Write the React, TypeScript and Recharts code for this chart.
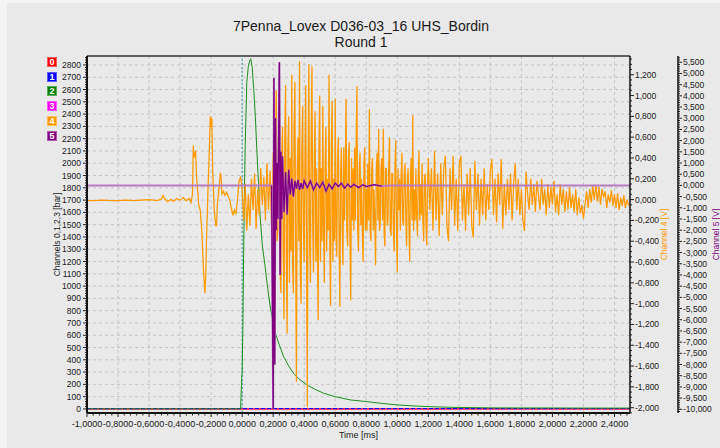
import React from 'react';
import { ComposedChart, Line, XAxis, YAxis, CartesianGrid, ReferenceLine } from 'recharts';

const FONT = '"Liberation Sans", Arial, sans-serif';

// ---------- texts ----------
const chartTitle = '7Penna_Lovex D036-03_16 UHS_Bordin';
const chartSubtitle = 'Round 1';
const xAxisTitle = 'Time [ms]';
const leftAxisTitle = 'Channels 0,1,2,3 [bar]';
const ch4AxisTitle = 'Channel 4 [V]';
const ch5AxisTitle = 'Channel 5 [V]';

// ---------- legend ----------
const channelIds = ['0', '1', '2', '3', '4', '5'];
const channelColors = ['#ff0000', '#0000ff', '#008000', '#ff00ff', '#ff9900', '#800080'];

// ---------- axes ----------
const xMajorTicks = [-1.0, -0.8, -0.6, -0.4, -0.2, 0.0, 0.2, 0.4, 0.6, 0.8, 1.0, 1.2, 1.4, 1.6, 1.8, 2.0, 2.2, 2.4];
const leftMajorTicks = [0, 100, 200, 300, 400, 500, 600, 700, 800, 900, 1000, 1100, 1200, 1300, 1400, 1500, 1600, 1700, 1800, 1900, 2000, 2100, 2200, 2300, 2400, 2500, 2600, 2700, 2800];
const ch4MajorTicks = [-2.0, -1.8, -1.6, -1.4, -1.2, -1.0, -0.8, -0.6, -0.4, -0.2, 0.0, 0.2, 0.4, 0.6, 0.8, 1.0, 1.2];
const ch5MajorTicks = [-10.0, -9.5, -9.0, -8.5, -8.0, -7.5, -7.0, -6.5, -6.0, -5.5, -5.0, -4.5, -4.0, -3.5, -3.0, -2.5, -2.0, -1.5, -1.0, -0.5, 0.0, 0.5, 1.0, 1.5, 2.0, 2.5, 3.0, 3.5, 4.0, 4.5, 5.0, 5.5];

const xDomain = [-1.0, 2.5];
const leftDomain = [-33, 2873];
const ch4Domain = [-2.051, 1.38];
const ch5Domain = [-10.166, 5.78];

// ---------- data ----------
// Channel 0 (red) and channel 3 (magenta): flat at 0 bar
const ch0Times = [-1.0, 2.5];
const ch0Values = [0, 0];
const ch3Times = [-1.0, 2.5];
const ch3Values = [0, 0];
// Channel 1 (blue): near 0 bar
const ch1Times = [-1.0, 2.5];
const ch1Values = [3, 3];

// Channel 2 (green) pressure pulse [bar]
const ch2Times = [-1.0, -0.01, -0.003, 0.0, 0.005, 0.01, 0.015, 0.02, 0.03, 0.04, 0.05, 0.056, 0.065, 0.075, 0.085, 0.095, 0.105, 0.116, 0.13, 0.148, 0.165, 0.18, 0.2, 0.213, 0.24, 0.266, 0.3, 0.331, 0.37, 0.417, 0.47, 0.525, 0.6, 0.7, 0.8, 0.9, 1.0, 1.1, 1.2, 1.3, 1.4, 1.6, 1.8, 2.0, 2.2, 2.5];
const ch2Values = [0, 0, 250, 300, 700, 1300, 1790, 2150, 2660, 2790, 2840, 2850, 2780, 2600, 2380, 2100, 1845, 1570, 1330, 1160, 980, 840, 700, 620, 520, 430, 350, 290, 240, 196, 160, 128, 100, 73, 60, 45, 33, 25, 19, 15, 12, 9, 8, 8, 7, 7];

// Channel 4 (orange) [V] – before the burst
const ch4PreTimes = [-1.0, -0.95, -0.9, -0.85, -0.8, -0.75, -0.7, -0.65, -0.6, -0.55, -0.52, -0.51, -0.5, -0.48, -0.46, -0.44, -0.42, -0.4, -0.38, -0.36, -0.34, -0.33, -0.32, -0.315, -0.31, -0.3, -0.295, -0.29, -0.28, -0.27, -0.26, -0.25, -0.24, -0.235, -0.23, -0.22, -0.21, -0.205, -0.2, -0.195, -0.19, -0.18, -0.17, -0.165, -0.16, -0.15, -0.14, -0.135, -0.13, -0.12, -0.11, -0.1, -0.09, -0.08, -0.07, -0.06, -0.05, -0.04, -0.03, -0.02, -0.01, 0.0];
const ch4PreValues = [-0.01, -0.01, -0.005, -0.01, -0.01, -0.005, -0.01, -0.005, 0.0, -0.01, 0.005, 0.04, 0.01, -0.02, 0.0, -0.015, 0.01, -0.005, 0.02, -0.01, 0.01, -0.03, 0.05, 0.52, 0.40, 0.47, 0.25, 0.15, -0.05, -0.10, -0.30, -0.65, -0.90, -0.75, -0.40, 0.10, 0.55, 0.80, 0.70, 0.78, 0.30, -0.10, -0.25, -0.25, -0.05, 0.10, 0.26, 0.20, 0.05, 0.08, 0.04, 0.07, 0.03, 0.0, -0.08, -0.15, -0.10, -0.14, 0.0, 0.18, 0.22, 0.10];

// Channel 4 – early burst, one sample every 0.01 ms from 0.01 to 0.20 ms
const ch4EarlyStart = 0.01;
const ch4EarlyStep = 0.01;
const ch4EarlyValues = [
  -0.20, 0.15, -0.30, 0.05, -0.25, 0.20, -0.10, 0.25, -0.28, 0.10,
  -0.15, 0.30, -0.05, 0.22, -0.20, 0.35, -0.10, 0.28, -0.25, 0.45,
];

// Channel 4 – main burst, one sample every 0.005 ms from 0.205 to 1.200 ms
const ch4MainStart = 0.205;
const ch4MainStep = 0.005;
const ch4MainValues = [
  0.30, -0.60, 0.50, 1.05, -0.40, -0.30, 0.60, 0.95, -0.70, -0.90, 0.40, 0.70, -0.50, -1.15, 0.60, 1.10, -0.60, -1.29, 0.50, 0.80,
  -0.80, 0.40, -0.50, 1.20, -0.60, -0.90, 0.70, 1.13, -0.50, -1.75, 0.30, 0.60, -0.40, 1.33, -0.70, -1.00, 0.50, 0.90, -0.30, -0.60,
  0.40, 1.10, -0.50, -1.99, 0.30, 1.30, -0.40, -0.80, 0.60, 1.28, -0.30, -0.70, 0.40, 0.85, -0.60, 0.30, -0.50, -1.16, 0.50, 1.00,
  -0.60, 0.30, -0.40, 0.90, -0.30, -0.80, 0.40, 0.70, -0.50, 0.20, -0.30, 1.20, -0.40, -1.02, 0.50, 0.95, -0.60, 0.20, -0.40, 0.97,
  -0.30, -0.55, 0.40, 0.60, -0.40, -1.03, 0.30, 0.50, -0.30, -0.63, 0.50, -0.20, 0.30, 0.97, -0.30, -0.45, 0.40, 0.55, -0.40, -0.97,
  0.40, -0.20, 0.30, -0.30, 0.50, -0.20, 0.60, 1.09, -0.30, -0.50, 0.30, 0.45, -0.25, 0.20, -0.35, -0.60, 0.35, 0.50, -0.30, 0.10,
  -0.30, 0.35, -0.20, 0.87, -0.30, -0.40, 0.30, 0.40, -0.30, 0.10, -0.20, -0.63, 0.30, 0.45, -0.20, 0.68, -0.30, -0.25, 0.30, 0.40,
  -0.20, 0.68, -0.30, -0.45, 0.30, 0.30, -0.25, -0.20, 0.35, 0.60, -0.30, -0.35, 0.25, 0.25, -0.30, -0.50, 0.30, 0.57, -0.30, -0.70,
  0.30, -0.10, 0.20, -0.30, 0.25, 0.45, -0.20, -0.25, 0.25, 0.35, -0.20, -0.45, 0.20, 0.30, -0.25, -0.60, 0.25, 0.40, -0.20, 0.81,
  -0.30, 0.10, -0.20, 0.30, -0.15, -0.35, 0.20, 0.47, -0.20, 0.15, -0.15, 0.35, -0.20, -0.40, 0.20, 0.25, -0.25, -0.44, 0.15, 0.40,
];

// Channel 4 – decay, one sample every 0.01 ms from 1.21 to 2.50 ms
const ch4TailStart = 1.21;
const ch4TailStep = 0.01;
const ch4TailValues = [
  -0.10, 0.30, -0.30, 0.47, -0.20, 0.25, -0.35, 0.35, -0.15, 0.30,
  0.42, -0.25, -0.40, 0.30, -0.10, 0.42, -0.25, 0.20, -0.30, 0.35,
  0.42, -0.20, 0.15, -0.30, 0.25, -0.15, 0.30, -0.25, -0.36, 0.37,
  -0.10, 0.25, -0.25, 0.20, -0.15, 0.30, -0.20, 0.15, -0.10, 0.28,
  0.39, -0.15, 0.20, -0.22, 0.25, -0.05, 0.39, -0.28, 0.15, -0.15,
  0.20, -0.10, 0.25, -0.20, 0.15, 0.35, -0.10, 0.20, -0.15, 0.10,
  -0.20, -0.30, 0.27, 0.05, -0.10, 0.20, -0.05, 0.15, -0.12, 0.18,
  0.05, -0.10, 0.20, -0.05, 0.10, -0.15, 0.15, -0.08, 0.12, -0.05,
  0.18, -0.12, 0.05, -0.15, 0.15, -0.05, 0.10, -0.12, 0.08, -0.10,
  0.12, -0.08, 0.05, -0.12, 0.10, -0.15, 0.02, -0.13, -0.05, -0.18,
  -0.05, 0.08, -0.08, 0.10, -0.03, 0.13, 0.00, 0.14, -0.02, 0.12,
  -0.05, 0.10, 0.02, 0.08, -0.08, 0.05, -0.03, 0.09, -0.06, 0.05,
  -0.08, 0.06, -0.10, 0.02, -0.06, 0.04, -0.08, 0.00, -0.05, -0.06,
];

// Channel 5 (purple) [V]
const ch5Times = [-1.0, 0.19, 0.2, 0.205, 0.21, 0.215, 0.22, 0.225, 0.23, 0.24, 0.245, 0.25, 0.255, 0.26, 0.27, 0.28, 0.29, 0.30, 0.31, 0.32, 0.33, 0.34, 0.35, 0.36, 0.37, 0.38, 0.39, 0.40, 0.42, 0.44, 0.46, 0.48, 0.50, 0.52, 0.54, 0.56, 0.58, 0.60, 0.62, 0.64, 0.66, 0.68, 0.70, 0.72, 0.75, 0.78, 0.80, 0.85, 0.90, 0.95, 1.0, 2.5];
const ch5Values = [0, 0, -10.0, 4.8, -8.0, 3.0, -2.0, 1.0, -1.5, 5.5, -4.0, 1.5, -1.5, 1.3, -1.2, 0.6, -1.3, 0.7, -0.4, 0.3, -0.5, 0.2, -0.15, 0.25, -0.2, 0.1, -0.15, 0.2, -0.1, 0.2, -0.2, 0.1, -0.1, 0.15, -0.25, 0.05, -0.15, 0.1, -0.05, 0.1, -0.12, 0.05, -0.08, 0.05, -0.1, 0.03, -0.05, 0.03, -0.03, 0, 0, 0];
// time window of the channel 5 transient (drawn in the darker tone)
const ch5BurstWindow = [0.19, 0.9];

// ---------- helpers ----------
const zip = (ts: number[], vs: number[]) => {
  const n = Math.min(ts.length, vs.length);
  const out: { t: number; v: number }[] = [];
  for (let i = 0; i < n; i++) out.push({ t: ts[i], v: vs[i] });
  return out;
};
const sampled = (start: number, step: number, vs: number[]) =>
  vs.map((v, i) => ({ t: Number((start + i * step).toFixed(4)), v }));

const ch0Data = zip(ch0Times, ch0Values);
const ch1Data = zip(ch1Times, ch1Values);
const ch2Data = zip(ch2Times, ch2Values);
const ch3Data = zip(ch3Times, ch3Values);
const ch4Data = [
  ...zip(ch4PreTimes, ch4PreValues),
  ...sampled(ch4EarlyStart, ch4EarlyStep, ch4EarlyValues),
  ...sampled(ch4MainStart, ch4MainStep, ch4MainValues),
  ...sampled(ch4TailStart, ch4TailStep, ch4TailValues),
];
const ch5Data = zip(ch5Times, ch5Values);
const ch5BurstData = ch5Data.filter((d) => d.t >= ch5BurstWindow[0] && d.t <= ch5BurstWindow[1]);

const withMinor = (majors: number[], parts: number, lo: number, hi: number) => {
  const step = (majors[1] - majors[0]) / parts;
  const start = majors[0] - Math.floor((majors[0] - lo) / step + 1e-9) * step;
  const out: number[] = [];
  for (let i = 0; start + i * step <= hi + 1e-9; i++) out.push(Number((start + i * step).toFixed(6)));
  return out;
};
const isMajor = (v: number, majors: number[]) => {
  const step = Math.abs(majors[1] - majors[0]);
  return majors.some((m) => Math.abs(m - v) < step / 20);
};
const comma = (v: number, d: number) => {
  const s = (Math.abs(v) < 1e-9 ? 0 : v).toFixed(d);
  return s.replace('.', ',');
};

const xTicks = withMinor(xMajorTicks, 5, xDomain[0], xDomain[1]);
const leftTicks = withMinor(leftMajorTicks, 5, 0, leftDomain[1]);
const ch4Ticks = withMinor(ch4MajorTicks, 4, ch4Domain[0], ch4Domain[1]);
const ch5Ticks = withMinor(ch5MajorTicks, 5, ch5Domain[0], ch5Domain[1]);

const TICK_COLOR = '#1a1a1a';

const XTick = (p: any) => {
  const major = isMajor(p.payload.value, xMajorTicks);
  return (
    <g>
      <line x1={p.x} x2={p.x} y1={p.y} y2={p.y + (major ? 4 : 2.5)} stroke="#222" />
      {major && (
        <text x={p.x} y={p.y + 13.5} textAnchor="middle" fontSize={9} fontFamily={FONT} fill={TICK_COLOR}>
          {comma(p.payload.value, 4)}
        </text>
      )}
    </g>
  );
};

const LeftTick = (p: any) => {
  const major = isMajor(p.payload.value, leftMajorTicks);
  return (
    <g>
      <line x1={p.x - (major ? 4 : 2)} x2={p.x} y1={p.y} y2={p.y} stroke="#222" />
      {major && (
        <text x={p.x - 6} y={p.y + 3} textAnchor="end" fontSize={8.5} fontFamily={FONT} fill={TICK_COLOR}>
          {String(p.payload.value)}
        </text>
      )}
    </g>
  );
};

const makeRightTick = (majors: number[]) => (p: any) => {
  const major = isMajor(p.payload.value, majors);
  return (
    <g>
      <line x1={p.x} x2={p.x + (major ? 4 : 2)} y1={p.y} y2={p.y} stroke="#222" />
      {major && (
        <text x={p.x + 5} y={p.y + 3} textAnchor="start" fontSize={8.5} fontFamily={FONT} fill={TICK_COLOR}>
          {comma(p.payload.value, 3)}
        </text>
      )}
    </g>
  );
};
const Ch4Tick = makeRightTick(ch4MajorTicks);
const Ch5Tick = makeRightTick(ch5MajorTicks);

const AxisTitle = (props: any) => {
  const vb = props.viewBox || { x: 0, y: 0, width: 0, height: 0 };
  const cx = vb.x + props.shift;
  const cy = vb.y + vb.height / 2;
  return (
    <text
      x={cx}
      y={cy}
      transform={`rotate(-90 ${cx} ${cy})`}
      textAnchor="middle"
      dominantBaseline="central"
      fontSize={8.5}
      fontFamily={FONT}
      fill={props.color}
    >
      {props.text}
    </text>
  );
};

const XTitle = (props: any) => {
  const vb = props.viewBox || { x: 0, y: 0, width: 0, height: 0 };
  return (
    <text x={vb.x + vb.width / 2} y={vb.y + 24.5} textAnchor="middle" fontSize={9} fontFamily={FONT} fill={TICK_COLOR}>
      {xAxisTitle}
    </text>
  );
};

export default function App() {
  return (
    <div
      style={{
        position: 'absolute',
        left: 0,
        top: 0,
        width: 720,
        height: 448,
        background: '#f4f4f4',
        overflow: 'hidden',
        fontFamily: FONT,
      }}
    >
      <div style={{ position: 'absolute', left: 7, top: 3, width: 713, height: 445, background: '#e9e9e9' }} />
      <div
        style={{
          position: 'absolute',
          left: 0,
          top: 18,
          width: 722,
          textAlign: 'center',
          fontSize: 14,
          lineHeight: '16px',
          color: '#1a1a1a',
        }}
      >
        <div>{chartTitle}</div>
        <div>{chartSubtitle}</div>
      </div>
      {channelIds.map((id, i) => (
        <div
          key={id}
          style={{
            position: 'absolute',
            left: 47,
            top: 57 + i * 14.7,
            width: 10,
            height: 10,
            background: channelColors[i],
            boxShadow: 'inset 0 0 0 1px rgba(255,255,255,0.35)',
            color: '#fff',
            fontSize: 9,
            fontWeight: 'bold',
            lineHeight: '10px',
            textAlign: 'center',
          }}
        >
          {id}
        </div>
      ))}
      <div style={{ position: 'absolute', left: 0, top: 0 }}>
        <ComposedChart width={720} height={448} margin={{ top: 56, right: 0, bottom: 0, left: 42 }}>
          <CartesianGrid
            yAxisId="left"
            stroke="#c4c4c4"
            strokeDasharray="3 3"
            horizontalValues={leftMajorTicks}
            verticalValues={xMajorTicks}
          />
          <XAxis
            type="number"
            dataKey="t"
            domain={xDomain}
            allowDataOverflow
            ticks={xTicks}
            interval={0}
            height={35}
            tickSize={0}
            tickMargin={0}
            tickLine={false}
            tick={<XTick />}
            axisLine={{ stroke: '#111', strokeWidth: 2 }}
            label={<XTitle />}
          />
          <YAxis
            yAxisId="left"
            orientation="left"
            type="number"
            domain={leftDomain}
            allowDataOverflow
            ticks={leftTicks}
            interval={0}
            width={45}
            tickSize={0}
            tickMargin={0}
            tickLine={false}
            tick={<LeftTick />}
            axisLine={{ stroke: '#111', strokeWidth: 2 }}
            label={<AxisTitle text={leftAxisTitle} color={TICK_COLOR} shift={15} />}
          />
          <YAxis
            yAxisId="ch4"
            orientation="right"
            type="number"
            domain={ch4Domain}
            allowDataOverflow
            ticks={ch4Ticks}
            interval={0}
            width={48}
            tickSize={0}
            tickMargin={0}
            tickLine={false}
            tick={<Ch4Tick />}
            axisLine={{ stroke: '#111', strokeWidth: 1.5 }}
            label={<AxisTitle text={ch4AxisTitle} color="#ff9900" shift={34} />}
          />
          <YAxis
            yAxisId="ch5"
            orientation="right"
            type="number"
            domain={ch5Domain}
            allowDataOverflow
            ticks={ch5Ticks}
            interval={0}
            width={42}
            tickSize={0}
            tickMargin={0}
            tickLine={false}
            tick={<Ch5Tick />}
            axisLine={{ stroke: '#111', strokeWidth: 1.5 }}
            label={<AxisTitle text={ch5AxisTitle} color="#800080" shift={38} />}
          />
          <ReferenceLine yAxisId="left" y={leftDomain[1]} stroke="#333" strokeWidth={1.5} />
          <ReferenceLine yAxisId="left" x={0} stroke="#2a9d9d" strokeDasharray="2 2" />
          <Line yAxisId="left" data={ch3Data} dataKey="v" stroke={channelColors[3]} strokeWidth={1} dot={false} isAnimationActive={false} />
          <Line yAxisId="left" data={ch0Data} dataKey="v" stroke={channelColors[0]} strokeWidth={1} dot={false} isAnimationActive={false} />
          <Line yAxisId="left" data={ch1Data} dataKey="v" stroke={channelColors[1]} strokeWidth={1} strokeDasharray="4 2" dot={false} isAnimationActive={false} />
          <Line yAxisId="left" data={ch2Data} dataKey="v" stroke="#1f8f1f" strokeWidth={1} dot={false} isAnimationActive={false} />
          <Line yAxisId="ch4" data={ch4Data} dataKey="v" stroke={channelColors[4]} strokeWidth={1.25} dot={false} isAnimationActive={false} />
          <Line yAxisId="ch5" data={ch5Data} dataKey="v" stroke="#b77cc0" strokeWidth={2} dot={false} isAnimationActive={false} />
          <Line yAxisId="ch5" data={ch5BurstData} dataKey="v" stroke={channelColors[5]} strokeWidth={1.3} dot={false} isAnimationActive={false} />
        </ComposedChart>
      </div>
    </div>
  );
}
